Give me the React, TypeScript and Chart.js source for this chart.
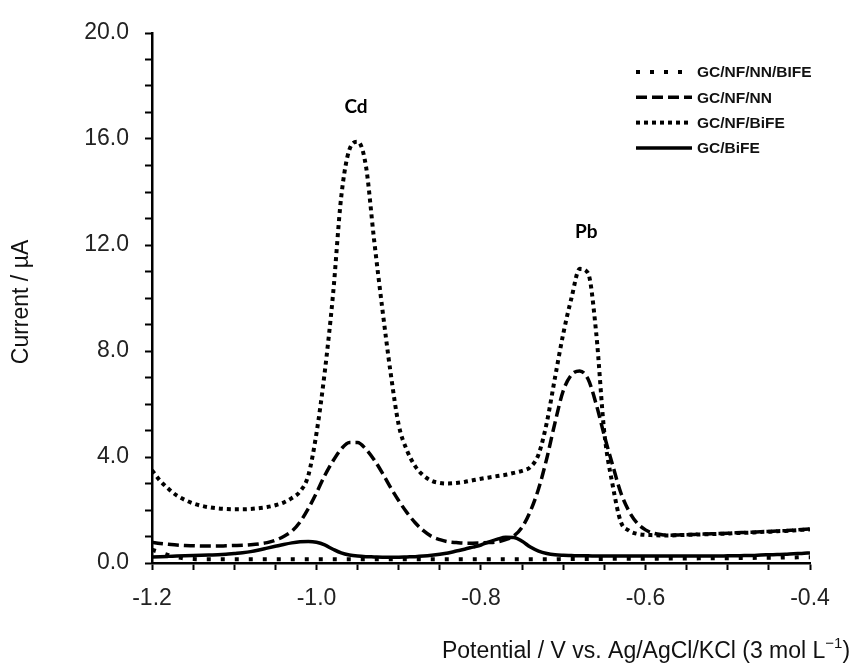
import React, { useEffect, useRef } from "react";
import { Chart, registerables } from "chart.js";

Chart.register(...registerables);

// Potential (V) sampling grid
const potential = [
  -1.2, -1.19, -1.18, -1.17, -1.16, -1.15, -1.14, -1.13, -1.12, -1.11,
  -1.1, -1.09, -1.08, -1.07, -1.06, -1.05, -1.04, -1.03, -1.02, -1.01,
  -1.0, -0.99, -0.98, -0.97, -0.96, -0.95, -0.94, -0.93, -0.92, -0.91,
  -0.9, -0.89, -0.88, -0.87, -0.86, -0.85, -0.84, -0.83, -0.82, -0.81,
  -0.8, -0.79, -0.78, -0.77, -0.76, -0.75, -0.74, -0.73, -0.72, -0.71,
  -0.7, -0.69, -0.68, -0.67, -0.66, -0.65, -0.64, -0.63, -0.62, -0.61,
  -0.6, -0.59, -0.58, -0.57, -0.56, -0.55, -0.54, -0.53, -0.52, -0.51,
  -0.5, -0.49, -0.48, -0.47, -0.46, -0.45, -0.44, -0.43, -0.42, -0.41,
  -0.4,
];

// Current (µA) for each electrode
const gcNfNnBife = [
  0.5, 0.4, 0.3, 0.22, 0.17, 0.15, 0.14, 0.14, 0.14, 0.14,
  0.14, 0.14, 0.14, 0.14, 0.14, 0.14, 0.14, 0.14, 0.14, 0.14,
  0.14, 0.14, 0.14, 0.14, 0.14, 0.14, 0.14, 0.14, 0.14, 0.14,
  0.14, 0.14, 0.14, 0.14, 0.14, 0.14, 0.14, 0.14, 0.14, 0.14,
  0.14, 0.14, 0.14, 0.14, 0.14, 0.14, 0.14, 0.14, 0.14, 0.14,
  0.15, 0.15, 0.15, 0.15, 0.15, 0.15, 0.16, 0.16, 0.16, 0.16,
  0.16, 0.16, 0.17, 0.17, 0.17, 0.17, 0.17, 0.18, 0.18, 0.18,
  0.18, 0.19, 0.19, 0.19, 0.2, 0.2, 0.2, 0.21, 0.21, 0.22,
  0.22,
];

const gcNfNn = [
  0.78, 0.74, 0.71, 0.68, 0.66, 0.65, 0.64, 0.64, 0.64, 0.65,
  0.66, 0.67, 0.69, 0.72, 0.77, 0.86, 1.0, 1.2, 1.55, 2.05,
  2.65, 3.3, 3.85, 4.3, 4.55, 4.55, 4.3, 3.9, 3.4, 2.85,
  2.35, 1.9, 1.52, 1.22, 1.0, 0.88, 0.8, 0.77, 0.75, 0.75,
  0.76, 0.77, 0.8, 0.88, 1.02, 1.35, 1.95, 2.8, 3.95, 5.3,
  6.5, 7.1, 7.25, 6.95, 6.0, 4.8, 3.7, 2.65, 1.95, 1.5,
  1.25, 1.12, 1.07, 1.05, 1.06, 1.07, 1.08, 1.09, 1.1, 1.11,
  1.12, 1.14, 1.15, 1.16, 1.18, 1.19, 1.21, 1.22, 1.24, 1.26,
  1.28,
];

const gcNfBife = [
  3.5, 3.1, 2.8, 2.55, 2.38, 2.25, 2.16, 2.1, 2.06, 2.04,
  2.03, 2.03, 2.04, 2.07, 2.11, 2.18, 2.28, 2.45, 2.7, 3.3,
  4.9, 7.2, 10.1, 13.8, 15.6, 15.9, 15.0, 12.2, 9.6, 7.2,
  5.2, 4.25, 3.65, 3.3, 3.1, 3.02, 3.0, 3.02, 3.06, 3.12,
  3.18, 3.23, 3.28, 3.33, 3.4, 3.48, 3.62, 4.1, 5.3, 7.0,
  8.65, 10.0, 11.1, 10.95, 8.7, 4.9, 2.95, 1.55, 1.22, 1.1,
  1.06, 1.05, 1.04, 1.04, 1.05, 1.06, 1.07, 1.08, 1.09, 1.1,
  1.11, 1.13, 1.14, 1.15, 1.17, 1.18, 1.2, 1.21, 1.23, 1.25,
  1.27,
];

const gcBife = [
  0.23, 0.24, 0.25, 0.26, 0.27, 0.28, 0.29, 0.3, 0.31, 0.33,
  0.36, 0.39, 0.43, 0.49, 0.56, 0.63, 0.7, 0.76, 0.8, 0.81,
  0.78, 0.68, 0.52, 0.38, 0.3, 0.26, 0.24, 0.23, 0.22, 0.22,
  0.22, 0.23, 0.24, 0.26, 0.29, 0.33, 0.38, 0.45, 0.52, 0.6,
  0.68, 0.8, 0.9, 0.97, 0.96, 0.82, 0.6, 0.45, 0.36, 0.31,
  0.29, 0.28, 0.27, 0.27, 0.26, 0.26, 0.26, 0.26, 0.26, 0.26,
  0.26, 0.26, 0.26, 0.26, 0.26, 0.26, 0.26, 0.26, 0.26, 0.26,
  0.27, 0.27, 0.28, 0.28, 0.3, 0.31, 0.32, 0.33, 0.35, 0.36,
  0.38,
];

const seriesNames = ["GC/NF/NN/BIFE", "GC/NF/NN", "GC/NF/BiFE", "GC/BiFE"];
const seriesDashes = [[4, 10], [11, 5], [4, 4], []];

const xMajorTicks = [-1.2, -1.0, -0.8, -0.6, -0.4];
const yMajorTicks = [0, 4, 8, 12, 16, 20];

const peakLabels = ["Cd", "Pb"];
const peakX = [-0.952, -0.672];
const peakY = [17.2, 12.5];

const xTitleMain = "Potential / V vs. Ag/AgCl/KCl (3 mol L";
const xTitleSup = "−1";
const xTitleEnd = ")";
const yTitle = "Current / µA";

const FONT = '"Liberation Sans", Arial, sans-serif';

const decorPlugin = {
  id: "decor",
  afterDraw(chart: any) {
    const { ctx, chartArea, scales } = chart;
    const xs = scales.x;
    const ys = scales.y;
    ctx.save();
    ctx.fillStyle = "#000";

    // Peak labels
    ctx.font = 'bold 19px Lato, "Open Sans", sans-serif';
    ctx.textAlign = "center";
    ctx.textBaseline = "middle";
    peakLabels.forEach((t, i) => {
      ctx.fillText(t, xs.getPixelForValue(peakX[i]), ys.getPixelForValue(peakY[i]));
    });

    // Legend
    const lx0 = 636;
    const lx1 = 692;
    const ly0 = 72;
    const lstep = 25.3;
    chart.data.datasets.forEach((ds: any, i: number) => {
      const y = ly0 + i * lstep;
      ctx.save();
      ctx.strokeStyle = ds.borderColor;
      ctx.lineWidth = ds.borderWidth;
      ctx.setLineDash(ds.borderDash || []);
      ctx.lineCap = "butt";
      ctx.beginPath();
      ctx.moveTo(lx0, y);
      ctx.lineTo(lx1, y);
      ctx.stroke();
      ctx.restore();
      ctx.font = "bold 15.5px " + FONT;
      ctx.textAlign = "left";
      ctx.textBaseline = "middle";
      ctx.fillStyle = "#111";
      ctx.fillText(ds.label, lx1 + 5, y + 1);
    });

    // Axis titles
    ctx.fillStyle = "#111";
    ctx.font = "23px " + FONT;
    ctx.textBaseline = "middle";
    ctx.save();
    ctx.translate(22, (chartArea.top + chartArea.bottom) / 2 + 4);
    ctx.rotate(-Math.PI / 2);
    ctx.textAlign = "center";
    ctx.fillText(yTitle, 0, 0);
    ctx.restore();

    const wMain = ctx.measureText(xTitleMain).width;
    ctx.font = "15px " + FONT;
    const wSup = ctx.measureText(xTitleSup).width;
    ctx.font = "23px " + FONT;
    const wEnd = ctx.measureText(xTitleEnd).width;
    const total = wMain + wSup + wEnd;
    let x = 646 - total / 2;
    const y = 652;
    ctx.textAlign = "left";
    ctx.fillText(xTitleMain, x, y);
    x += wMain;
    ctx.font = "15px " + FONT;
    ctx.fillText(xTitleSup, x, y - 8);
    x += wSup;
    ctx.font = "23px " + FONT;
    ctx.fillText(xTitleEnd, x, y);
    ctx.restore();
  },
};

export default function App() {
  const canvasRef = useRef<HTMLCanvasElement | null>(null);

  useEffect(() => {
    const canvas = canvasRef.current;
    if (!canvas) return;
    const seriesValues = [gcNfNnBife, gcNfNn, gcNfBife, gcBife];
    const datasets = seriesNames.map((name, i) => ({
      label: name,
      data: potential.map((p, j) => ({ x: p, y: seriesValues[i][j] })),
      borderColor: "#000",
      borderWidth: i === 1 ? 3.5 : 4,
      borderDash: seriesDashes[i],
      borderCapStyle: "butt",
      pointRadius: 0,
      fill: false,
      cubicInterpolationMode: "monotone",
    }));
    datasets[3].borderWidth = 3.5;

    const chart = new Chart(canvas, {
      type: "line",
      data: { datasets: datasets as any },
      options: {
        animation: false,
        responsive: false,
        maintainAspectRatio: false,
        layout: { padding: { top: 33, right: 45, left: 0, bottom: 0 } },
        plugins: {
          legend: { display: false },
          tooltip: { enabled: false },
        },
        scales: {
          x: {
            type: "linear",
            min: -1.2,
            max: -0.4,
            afterFit: (s: any) => {
              s.height = 106;
            },
            ticks: {
              stepSize: 0.05,
              autoSkip: false,
              maxRotation: 0,
              padding: 15,
              color: "#222",
              font: { family: FONT, size: 23 },
              callback: (v: any) => {
                const n = Number(v);
                const hit = xMajorTicks.find((m) => Math.abs(m - n) < 1e-6);
                return hit !== undefined ? hit.toFixed(1) : "";
              },
            },
            grid: {
              drawOnChartArea: false,
              drawTicks: true,
              tickLength: 7,
              tickColor: "#000",
              tickWidth: 2,
            },
            border: { display: true, color: "#000", width: 2.5 },
          },
          y: {
            type: "linear",
            min: 0,
            max: 20,
            afterFit: (s: any) => {
              s.width = 152;
            },
            ticks: {
              stepSize: 1,
              autoSkip: false,
              padding: 16,
              color: "#222",
              font: { family: FONT, size: 23 },
              callback: (v: any) => {
                const n = Number(v);
                const hit = yMajorTicks.find((m) => Math.abs(m - n) < 1e-6);
                return hit !== undefined ? hit.toFixed(1) : "";
              },
            },
            grid: {
              drawOnChartArea: false,
              drawTicks: true,
              tickLength: 7,
              tickColor: "#000",
              tickWidth: 2,
            },
            border: { display: true, color: "#000", width: 2.5 },
          },
        },
      },
      plugins: [decorPlugin],
    });
    return () => chart.destroy();
  }, []);

  return (
    <div style={{ position: "fixed", left: 0, top: 0, width: 855, height: 669, background: "#fff" }}>
      <canvas ref={canvasRef} width={855} height={669} style={{ display: "block" }} />
    </div>
  );
}
